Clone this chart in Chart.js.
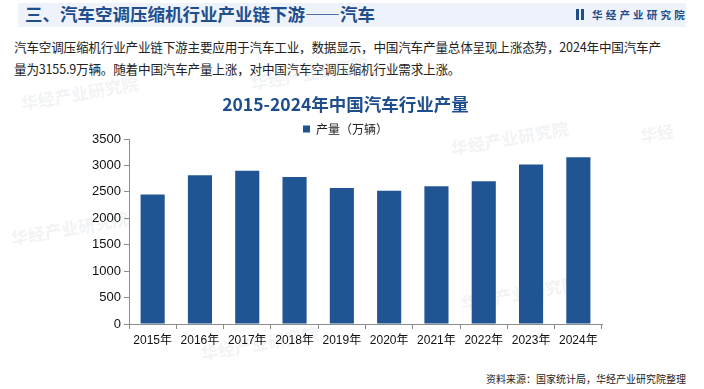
<!DOCTYPE html>
<html lang="zh-CN">
<head>
<meta charset="utf-8">
<script src="https://cdn.jsdelivr.net/npm/chart.js@4/dist/chart.umd.min.js"></script>
<style>
  html, body { margin: 0; padding: 0; background: #ffffff; }
  body { width: 704px; height: 389px; position: relative; overflow: hidden; font-family: "Noto Sans CJK SC", "Noto Sans", sans-serif; }
  #header { position: absolute; left: 18px; top: 3px; width: 668px; height: 24px; background: #eef3fb; }
  #headTitle { position: absolute; left: 25px; top: 1px; font-size: 17.5px; font-weight: 700; color: #1f4e8c; line-height: 26px; white-space: nowrap; }
  #logo { position: absolute; left: 576px; top: 8px; height: 13px; }
  #logo .bar { position: absolute; top: 1px; width: 3px; height: 11px; background: #1f4e8c; }
  #logoText { position: absolute; left: 592px; top: 6px; font-size: 10.5px; font-weight: 700; color: #1f4e8c; letter-spacing: 3.2px; white-space: nowrap; line-height: 18px; }
  #desc { position: absolute; left: 14px; top: 36px; font-size: 12.6px; color: #222; line-height: 22px; white-space: nowrap; letter-spacing: -0.2px; }
  #source { position: absolute; right: 18px; top: 371px; font-size: 10px; color: #222; white-space: nowrap; }
  .wm { position: absolute; font-size: 17px; font-weight: 700; color: rgba(190,196,206,0.2); transform: rotate(-10deg); white-space: nowrap; }
  #wrap { position: absolute; left: 0; top: 84px; width: 704px; height: 272px; }
</style>
</head>
<body>
<div id="header"></div>
<div id="headTitle">三、汽车空调压缩机行业产业链下游——汽车</div>
<div id="logo"><div class="bar" style="left:0"></div><div class="bar" style="left:5px"></div></div>
<div id="logoText">华经产业研究院</div>
<div id="desc">汽车空调压缩机行业产业链下游主要应用于汽车工业，数据显示，中国汽车产量总体呈现上涨态势，2024年中国汽车产<br>量为3155.9万辆。随着中国汽车产量上涨，对中国汽车空调压缩机行业需求上涨。</div>
<div class="wm" style="left:20px;top:80px">华经产业研究院</div>
<div class="wm" style="left:250px;top:60px">华经产业研究院</div>
<div class="wm" style="left:450px;top:125px">华经产业研究院</div>
<div class="wm" style="left:640px;top:120px">华经</div>
<div class="wm" style="left:10px;top:215px">华经产业研究院</div>
<div class="wm" style="left:460px;top:280px">华经产业研究院</div>
<div class="wm" style="left:200px;top:330px">华经产业研究院</div>
<div id="wrap"><canvas id="chart"></canvas></div>
<div id="source">资料来源：国家统计局，华经产业研究院整理</div>
<script>
const YEARS = ["2015年", "2016年", "2017年", "2018年", "2019年", "2020年", "2021年", "2022年", "2023年", "2024年"];
const OUTPUT = [2450.3, 2811.9, 2901.5, 2780.9, 2572.1, 2522.5, 2608.2, 2702.1, 3016.1, 3155.9];
const SERIES_LABEL = "产量（万辆）";
const CHART_TITLE = "2015-2024年中国汽车行业产量";
const Y_MAX = 3500;
const Y_STEP = 500;

const BAR_COLOR = "#215493";
const AXIS_COLOR = "#8c8c8c";
const TEXT_FONT = "'Liberation Sans', Arial, 'Noto Sans CJK SC', sans-serif";

// keep the legend row compact so the plot top lines up with the reference
const legendHeight = {
  id: "legendHeight",
  beforeLayout(chart) {
    const legend = chart.legend;
    if (legend && !legend._fixed) {
      const fit = legend.fit;
      legend.fit = function () {
        fit.call(this);
        this.height = 20;
      };
      legend._fixed = true;
    }
  },
};

new Chart(document.getElementById("chart"), {
  type: "bar",
  data: {
    labels: YEARS,
    datasets: [{
      label: SERIES_LABEL,
      data: OUTPUT,
      backgroundColor: BAR_COLOR,
      borderWidth: 0,
      categoryPercentage: 0.51,
      barPercentage: 1,
    }],
  },
  plugins: [legendHeight],
  options: {
    responsive: true,
    maintainAspectRatio: false,
    animation: false,
    layout: { padding: { left: 89, right: 102, top: 0, bottom: 6 } },
    plugins: {
      title: {
        display: true,
        text: CHART_TITLE,
        color: "#1f4e8c",
        font: { family: "'Noto Sans CJK SC', sans-serif", size: 17.5, weight: "bold" },
        padding: { top: 10, bottom: 4 },
      },
      legend: {
        display: true,
        labels: {
          boxWidth: 7,
          boxHeight: 7,
          padding: 4,
          color: "#222",
          font: { family: "'Noto Sans CJK SC', sans-serif", size: 12 },
        },
      },
      tooltip: { enabled: false },
    },
    scales: {
      x: {
        afterFit: (scale) => { scale.height = 26; },
        grid: { display: true, drawOnChartArea: false, drawTicks: true, tickLength: 5, color: AXIS_COLOR, offset: true },
        border: { display: true, color: AXIS_COLOR, width: 1 },
        ticks: { color: "#111", padding: 4, maxRotation: 0, font: { family: TEXT_FONT, size: 12 } },
      },
      y: {
        min: 0,
        max: Y_MAX,
        afterFit: (scale) => { scale.width = 40; },
        grid: { display: true, drawOnChartArea: false, drawTicks: true, tickLength: 5, color: AXIS_COLOR },
        border: { display: true, color: AXIS_COLOR, width: 1 },
        ticks: { stepSize: Y_STEP, color: "#111", padding: 3, font: { family: TEXT_FONT, size: 13 }, callback: (value) => String(value) },
      },
    },
  },
});
</script>
</body>
</html>
